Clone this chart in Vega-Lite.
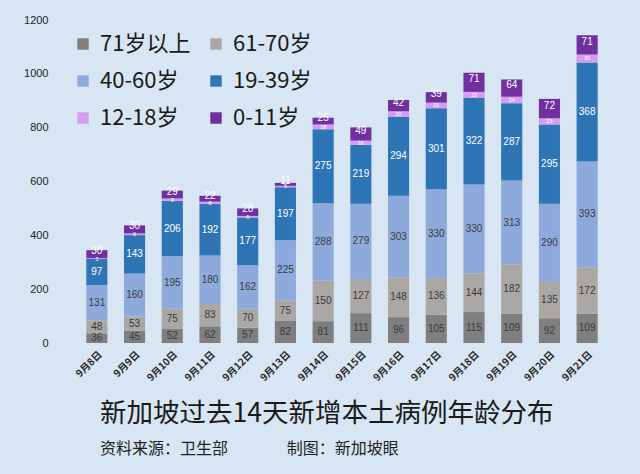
{
  "$schema": "https://vega.github.io/schema/vega-lite/v6.json",
  "width": 528,
  "height": 323,
  "autosize": {"type": "none"},
  "padding": {"left": 78, "top": 20, "right": 34, "bottom": 131},
  "background": "#d8e5f2",
  "config": {
    "view": {"stroke": null},
    "font": "Noto Sans CJK SC"
  },
  "title": {
    "text": "新加坡过去14天新增本土病例年龄分布",
    "subtitle": "资料来源：卫生部\u3000\u3000\u3000\u00a0\u00a0\u00a0制图：新加坡眼",
    "orient": "bottom",
    "anchor": "start",
    "frame": "group",
    "dx": 22,
    "offset": 18,
    "fontSize": 26.5,
    "fontWeight": "normal",
    "color": "#1a1a1a",
    "subtitleFontSize": 16,
    "subtitleColor": "#222222",
    "subtitlePadding": 14,
    "font": "Noto Sans CJK SC",
    "subtitleFont": "Noto Sans CJK SC"
  },
  "data": {
    "values": [
      {"date": "9月8日", "group": "71岁以上", "n": 36},
      {"date": "9月8日", "group": "61-70岁", "n": 48},
      {"date": "9月8日", "group": "40-60岁", "n": 131},
      {"date": "9月8日", "group": "19-39岁", "n": 97},
      {"date": "9月8日", "group": "12-18岁", "n": 3},
      {"date": "9月8日", "group": "0-11岁", "n": 30},
      {"date": "9月9日", "group": "71岁以上", "n": 45},
      {"date": "9月9日", "group": "61-70岁", "n": 53},
      {"date": "9月9日", "group": "40-60岁", "n": 160},
      {"date": "9月9日", "group": "19-39岁", "n": 143},
      {"date": "9月9日", "group": "12-18岁", "n": 6},
      {"date": "9月9日", "group": "0-11岁", "n": 30},
      {"date": "9月10日", "group": "71岁以上", "n": 52},
      {"date": "9月10日", "group": "61-70岁", "n": 75},
      {"date": "9月10日", "group": "40-60岁", "n": 195},
      {"date": "9月10日", "group": "19-39岁", "n": 206},
      {"date": "9月10日", "group": "12-18岁", "n": 9},
      {"date": "9月10日", "group": "0-11岁", "n": 29},
      {"date": "9月11日", "group": "71岁以上", "n": 62},
      {"date": "9月11日", "group": "61-70岁", "n": 83},
      {"date": "9月11日", "group": "40-60岁", "n": 180},
      {"date": "9月11日", "group": "19-39岁", "n": 192},
      {"date": "9月11日", "group": "12-18岁", "n": 8},
      {"date": "9月11日", "group": "0-11岁", "n": 22},
      {"date": "9月12日", "group": "71岁以上", "n": 57},
      {"date": "9月12日", "group": "61-70岁", "n": 70},
      {"date": "9月12日", "group": "40-60岁", "n": 162},
      {"date": "9月12日", "group": "19-39岁", "n": 177},
      {"date": "9月12日", "group": "12-18岁", "n": 6},
      {"date": "9月12日", "group": "0-11岁", "n": 28},
      {"date": "9月13日", "group": "71岁以上", "n": 82},
      {"date": "9月13日", "group": "61-70岁", "n": 75},
      {"date": "9月13日", "group": "40-60岁", "n": 225},
      {"date": "9月13日", "group": "19-39岁", "n": 197},
      {"date": "9月13日", "group": "12-18岁", "n": 5},
      {"date": "9月13日", "group": "0-11岁", "n": 11},
      {"date": "9月14日", "group": "71岁以上", "n": 81},
      {"date": "9月14日", "group": "61-70岁", "n": 150},
      {"date": "9月14日", "group": "40-60岁", "n": 288},
      {"date": "9月14日", "group": "19-39岁", "n": 275},
      {"date": "9月14日", "group": "12-18岁", "n": 18},
      {"date": "9月14日", "group": "0-11岁", "n": 25},
      {"date": "9月15日", "group": "71岁以上", "n": 111},
      {"date": "9月15日", "group": "61-70岁", "n": 127},
      {"date": "9月15日", "group": "40-60岁", "n": 279},
      {"date": "9月15日", "group": "19-39岁", "n": 219},
      {"date": "9月15日", "group": "12-18岁", "n": 16},
      {"date": "9月15日", "group": "0-11岁", "n": 49},
      {"date": "9月16日", "group": "71岁以上", "n": 96},
      {"date": "9月16日", "group": "61-70岁", "n": 148},
      {"date": "9月16日", "group": "40-60岁", "n": 303},
      {"date": "9月16日", "group": "19-39岁", "n": 294},
      {"date": "9月16日", "group": "12-18岁", "n": 20},
      {"date": "9月16日", "group": "0-11岁", "n": 42},
      {"date": "9月17日", "group": "71岁以上", "n": 105},
      {"date": "9月17日", "group": "61-70岁", "n": 136},
      {"date": "9月17日", "group": "40-60岁", "n": 330},
      {"date": "9月17日", "group": "19-39岁", "n": 301},
      {"date": "9月17日", "group": "12-18岁", "n": 21},
      {"date": "9月17日", "group": "0-11岁", "n": 39},
      {"date": "9月18日", "group": "71岁以上", "n": 115},
      {"date": "9月18日", "group": "61-70岁", "n": 144},
      {"date": "9月18日", "group": "40-60岁", "n": 330},
      {"date": "9月18日", "group": "19-39岁", "n": 322},
      {"date": "9月18日", "group": "12-18岁", "n": 22},
      {"date": "9月18日", "group": "0-11岁", "n": 71},
      {"date": "9月19日", "group": "71岁以上", "n": 109},
      {"date": "9月19日", "group": "61-70岁", "n": 182},
      {"date": "9月19日", "group": "40-60岁", "n": 313},
      {"date": "9月19日", "group": "19-39岁", "n": 287},
      {"date": "9月19日", "group": "12-18岁", "n": 24},
      {"date": "9月19日", "group": "0-11岁", "n": 64},
      {"date": "9月20日", "group": "71岁以上", "n": 92},
      {"date": "9月20日", "group": "61-70岁", "n": 135},
      {"date": "9月20日", "group": "40-60岁", "n": 290},
      {"date": "9月20日", "group": "19-39岁", "n": 295},
      {"date": "9月20日", "group": "12-18岁", "n": 23},
      {"date": "9月20日", "group": "0-11岁", "n": 72},
      {"date": "9月21日", "group": "71岁以上", "n": 109},
      {"date": "9月21日", "group": "61-70岁", "n": 172},
      {"date": "9月21日", "group": "40-60岁", "n": 393},
      {"date": "9月21日", "group": "19-39岁", "n": 368},
      {"date": "9月21日", "group": "12-18岁", "n": 30},
      {"date": "9月21日", "group": "0-11岁", "n": 71}
    ]
  },
  "encoding": {
    "x": {
      "field": "date",
      "type": "nominal",
      "sort": null,
      "scale": {"paddingInner": 0.44, "paddingOuter": 0.22},
      "axis": {
        "title": null,
        "labelAngle": -45,
        "labelFontSize": 10,
        "labelFontWeight": "bold",
        "labelColor": "#2a2a2a",
        "labelPadding": 6,
        "ticks": false,
        "domain": false,
        "labelFont": "Noto Sans CJK SC"
      }
    }
  },
  "layer": [
    {
      "mark": {"type": "bar"},
      "encoding": {
        "y": {
          "field": "n",
          "type": "quantitative",
          "aggregate": "sum",
          "stack": "zero",
          "scale": {"domain": [0, 1200]},
          "axis": {
            "title": null,
            "values": [0, 200, 400, 600, 800, 1000, 1200],
            "format": "d",
            "grid": false,
            "domain": false,
            "ticks": false,
            "labelFontSize": 11,
            "labelColor": "#222222",
            "labelPadding": 30,
            "labelFont": "Liberation Sans"
          }
        },
        "order": {"field": "group", "sort": "descending"},
        "color": {
          "field": "group",
          "type": "nominal",
          "scale": {
            "domain": ["71岁以上", "61-70岁", "40-60岁", "19-39岁", "12-18岁", "0-11岁"],
            "range": ["#7f7f7f", "#aaa7a4", "#8eaadc", "#2e75b6", "#d69cf0", "#7030a0"]
          },
          "legend": {
            "title": null,
            "orient": "none",
            "legendX": -6,
            "legendY": 13,
            "columns": 2,
            "direction": "horizontal",
            "symbolType": "square",
            "symbolSize": 130,
            "symbolStrokeWidth": 0,
            "labelFontSize": 22,
            "labelColor": "#1a1a1a",
            "labelFont": "Noto Sans CJK SC",
            "labelOffset": 6,
            "rowPadding": 15,
            "columnPadding": 14
          }
        }
      }
    },
    {
      "transform": [
        {
          "stack": "n",
          "groupby": ["date"],
          "sort": [{"field": "group", "order": "descending"}],
          "as": ["y0", "y1"]
        },
        {"calculate": "(datum.y0 + datum.y1) / 2", "as": "mid"}
      ],
      "layer": [
        {
          "transform": [{"filter": "datum.group !== '0-11岁' && datum.group !== '12-18岁'"}],
          "mark": {"type": "text", "font": "Liberation Sans", "baseline": "middle", "fontSize": 10},
          "encoding": {
            "y": {"field": "mid", "type": "quantitative"},
            "text": {"field": "n", "type": "quantitative"},
            "color": {
              "condition": {"test": "datum.group === '19-39岁'", "value": "#ffffff"},
              "value": "#3a3a3a"
            }
          }
        },
        {
          "transform": [{"filter": "datum.group === '12-18岁'"}],
          "mark": {"type": "text", "font": "Liberation Sans", "baseline": "middle", "fontSize": 5.5, "color": "#ffffff"},
          "encoding": {
            "y": {"field": "mid", "type": "quantitative"},
            "text": {"field": "n", "type": "quantitative"}
          }
        },
        {
          "transform": [{"filter": "datum.group === '0-11岁'"}],
          "mark": {"type": "text", "font": "Liberation Sans", "baseline": "middle", "fontSize": 10, "color": "#ffffff", "dy": -3},
          "encoding": {
            "y": {"field": "mid", "type": "quantitative"},
            "text": {"field": "n", "type": "quantitative"}
          }
        }
      ]
    }
  ]
}
